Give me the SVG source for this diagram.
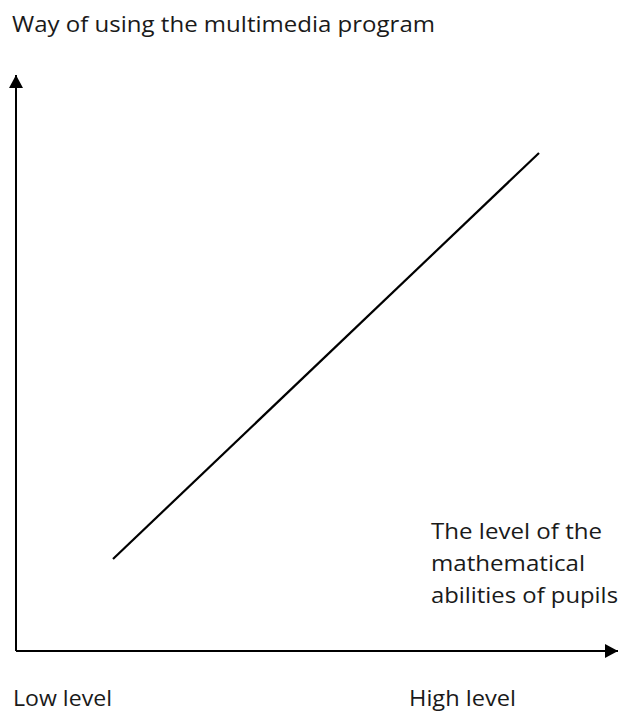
<svg xmlns="http://www.w3.org/2000/svg" width="619" height="711" viewBox="0 0 619 711">
  <style>
    .lbl { font-family: "Open Sans", "Noto Sans", sans-serif; font-size: 22px; fill: #1a1a1a; }
    .axis { stroke: #000; stroke-width: 2; fill: none; }
    .trend { stroke: #000; stroke-width: 2.2; fill: none; }
  </style>
  <defs>
    <marker id="arrowhead" markerUnits="userSpaceOnUse" markerWidth="14" markerHeight="14" refX="13" refY="7" orient="auto">
      <path d="M0,0 L13,7 L0,14 Z" fill="#000"/>
    </marker>
  </defs>

  <!-- axes -->
  <g id="connectors">
    <path class="axis" d="M16,651 L16,75" marker-end="url(#arrowhead)"/>
    <path class="axis" d="M16,651 L618,651" marker-end="url(#arrowhead)"/>
    <line id="trend-line" class="trend" x1="113" y1="559" x2="539" y2="153"/>
  </g>

  <!-- axis titles and extremes -->
  <g id="y-axis-title">
    <text class="lbl" x="12" y="32" textLength="423" lengthAdjust="spacingAndGlyphs">Way of using the multimedia program</text>
  </g>
  <g id="x-axis-title">
    <text class="lbl" x="431" y="539" textLength="171" lengthAdjust="spacingAndGlyphs">The level of the</text>
    <text class="lbl" x="431" y="571" textLength="154" lengthAdjust="spacingAndGlyphs">mathematical</text>
    <text class="lbl" x="431" y="603" textLength="187" lengthAdjust="spacingAndGlyphs">abilities of pupils</text>
  </g>
  <g id="low-level">
    <text class="lbl" x="13" y="706" textLength="99" lengthAdjust="spacingAndGlyphs">Low level</text>
  </g>
  <g id="high-level">
    <text class="lbl" x="409" y="706" textLength="107" lengthAdjust="spacingAndGlyphs">High level</text>
  </g>
</svg>
